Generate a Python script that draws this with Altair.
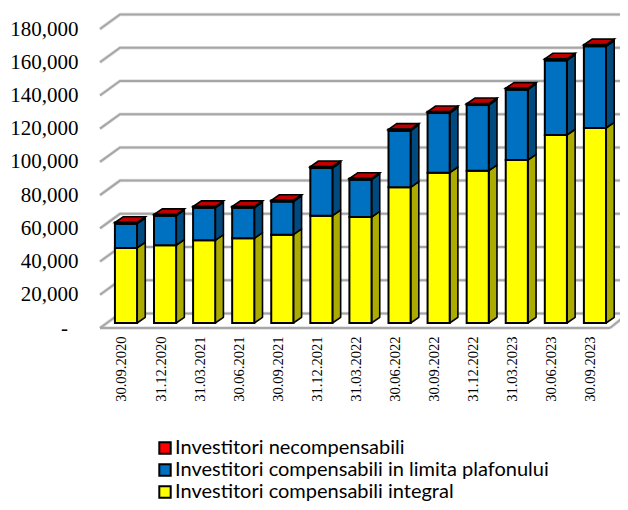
import altair as alt
import pandas as pd

dates = ["30.09.2020","31.12.2020","31.03.2021","30.06.2021","30.09.2021","31.12.2021","31.03.2022",
         "30.06.2022","30.09.2022","31.12.2022","31.03.2023","30.06.2023","30.09.2023"]
integral = [45200,46800,49800,51000,53200,64600,63800,81700,90500,91700,98100,113200,117400]
plafon   = [14600,17800,19600,18400,19900,28700,22500,34100,35900,39500,42400,44900,49200]
necomp   = [700,700,700,700,700,800,700,800,800,800,800,900,900]
names = ["Investitori necompensabili","Investitori compensabili in limita plafonului","Investitori compensabili integral"]
front_colors = ["#FF0000","#0070C0","#FFFF00"]
side_colors = {"y":"#ABAB00","b":"#004A80","r":"#A00000"}
ticks = [0,20000,40000,60000,80000,100000,120000,140000,160000,180000]

X0, X1 = -0.665, 12.385      # front edge of the floor, in category units
WDX, WDY = 0.512, 8730       # wall depth
BDX, BDY = 0.21, 3430        # bar depth
HW = 0.283                   # bar half width
BASE = 3000                  # bars stand a little behind the front edge

wall = []
for t in ticks:
    k = f"t{t}"
    wall += [dict(g=k,x=X0,y=t),dict(g=k,x=X0+WDX,y=t+WDY),dict(g=k,x=X1+WDX-0.05,y=t+WDY)]
wall += [dict(g="front",x=X0,y=0),dict(g="front",x=X1,y=0),
         dict(g="right",x=X1,y=0),dict(g="right",x=X1+WDX-0.05,y=WDY)]
wall = pd.DataFrame(wall)

front, side, top = [], [], []
for i in range(13):
    lo = BASE
    for key, nm, v in (("y",names[2],integral[i]),("b",names[1],plafon[i]),("r",names[0],necomp[i])):
        hi = lo + v
        front.append(dict(name=nm,x=i-HW,x2=i+HW,y=lo,y2=hi))
        g = f"{i}{key}"
        side.append(dict(g=g,c=side_colors[key],x=i+HW,y=lo,y2=hi))
        side.append(dict(g=g,c=side_colors[key],x=i+HW+BDX,y=lo+BDY,y2=hi+BDY))
        lo = hi
    g = f"{i}t"
    top.append(dict(g=g,y=lo,x=i-HW,x2=i+HW))
    top.append(dict(g=g,y=lo+BDY,x=i-HW+BDX,x2=i+HW+BDX))
front, side, top = pd.DataFrame(front), pd.DataFrame(side), pd.DataFrame(top)

xs = alt.Scale(domain=[X0,X1],nice=False,zero=False)
ys = alt.Scale(domain=[0,180000],nice=False,zero=False)
date_expr = "[" + ",".join(f"'{d}'" for d in dates) + "][datum.value]"
SERIF = "Liberation Serif"

x_ax = alt.Axis(values=list(range(13)),labelExpr=date_expr,labelAngle=270,labelAlign="right",labelBaseline="middle",
                labelFont=SERIF,labelFontSize=14.5,labelColor="#000",labelPadding=8,labelOffset=-4,
                labelOverlap=False,domain=False,ticks=False,grid=False,title=None)
y_ax = alt.Axis(values=ticks,labelExpr="datum.value==0?'-\u00a0\u00a0\u200b':format(datum.value,',')",
                labelFont=SERIF,labelFontSize=21,labelColor="#000",labelPadding=22,labelOverlap=False,
                domain=False,ticks=False,grid=False,title=None)

X_ = alt.X("x:Q",scale=xs,axis=x_ax)
Y_ = alt.Y("y:Q",scale=ys,axis=y_ax)

halo = alt.Chart(wall).mark_line(color="#000",opacity=0.12,strokeWidth=3.5,clip=False).encode(
    x=X_,y=Y_,detail="g:N",order=alt.Order("x:Q"))
lines = alt.Chart(wall).mark_line(color="#A6A6A6",strokeWidth=2,clip=False).encode(
    x=X_,y=Y_,detail="g:N",order=alt.Order("x:Q"))
sides = alt.Chart(side).mark_area(stroke="#000",strokeWidth=1.6,strokeJoin="round",clip=False).encode(
    x=X_,y=Y_,y2="y2:Q",detail="g:N",fill=alt.Fill("c:N",scale=None))
tops = alt.Chart(top).mark_area(orient="horizontal",fill="#C00000",stroke="#000",strokeWidth=1.6,clip=False).encode(
    x=X_,x2="x2:Q",y=Y_,detail="g:N")
fronts = alt.Chart(front).mark_rect(stroke="#000",strokeWidth=2,clip=False).encode(
    x=X_,x2="x2:Q",y=Y_,y2="y2:Q",
    fill=alt.Fill("name:N",scale=alt.Scale(domain=names,range=front_colors),
        legend=alt.Legend(title=None,orient="none",legendX=55,legendY=409,symbolType="square",symbolSize=130,
                          symbolStrokeColor="#000",symbolStrokeWidth=2,symbolOpacity=1,
                          labelFont="Lato",labelFontSize=20,labelColor="#000",labelLimit=500,
                          labelOffset=0,rowPadding=2)))

chart = alt.layer(halo,lines,sides,tops,fronts).properties(
    width=510,height=299,autosize=alt.AutoSizeParams(type="none"),
    padding={"left":92,"top":21,"right":10,"bottom":174},background="white"
).configure_view(stroke=None)

chart.save("out.html",embed_options={"renderer":"svg","actions":False})
